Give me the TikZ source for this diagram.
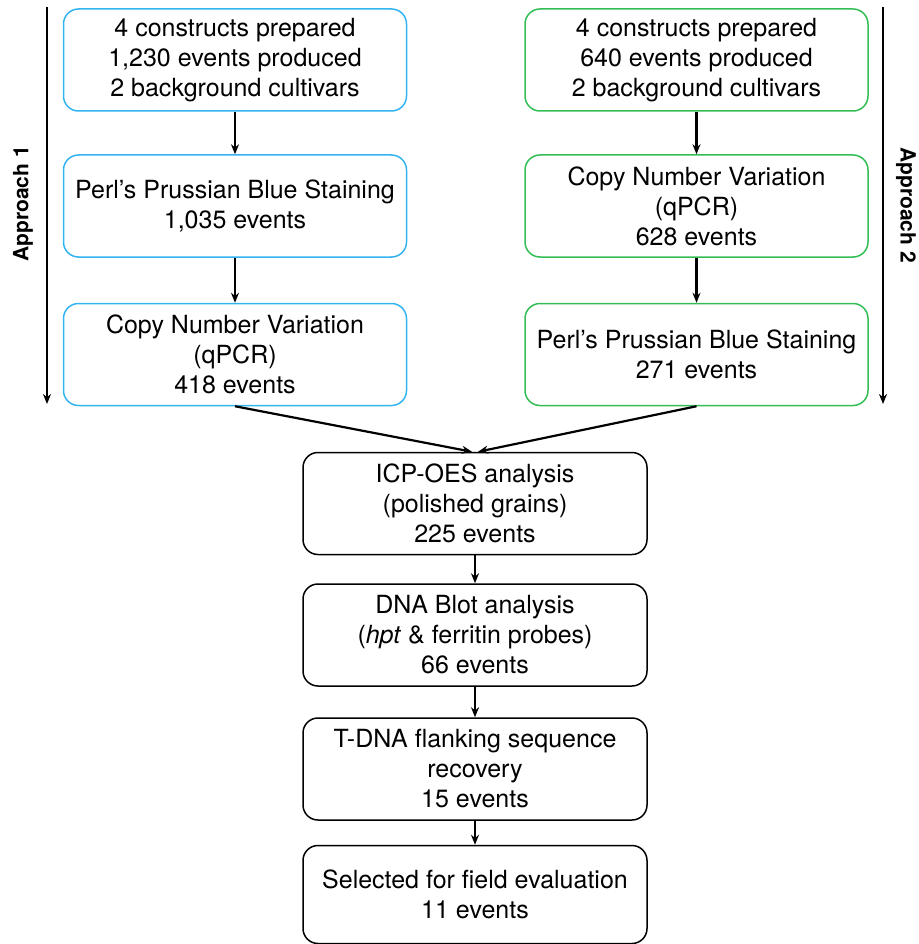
\documentclass[tikz,border=0pt]{standalone}
\usepackage{fontspec}
\setmainfont{TeX Gyre Heros}
\usetikzlibrary{arrows.meta}
\definecolor{boxblue}{RGB}{51,180,240}
\definecolor{boxgreen}{RGB}{50,190,85}
\begin{document}
\begin{tikzpicture}[x=1pt,y=-1pt,
  box/.style={draw, line width=1.5pt, rounded corners=15pt, minimum width=343pt, minimum height=102pt, align=center, inner sep=0pt, font=\fontsize{25}{30}\selectfont},
  bluebox/.style={box, draw=boxblue},
  greenbox/.style={box, draw=boxgreen},
  blackbox/.style={box, draw=black, minimum width=344pt},
  arr/.style={-{Stealth[length=10pt,width=8pt]}, line width=2.2pt},
  lab/.style={font=\fontsize{21}{24}\selectfont\bfseries}]
\useasboundingbox (0,0) rectangle (918,944);
% left column
\node[bluebox] (l1) at (235,60) {4 constructs prepared\\1,230 events produced\\2 background cultivars};
\node[bluebox] (l2) at (235,206) {Perl’s Prussian Blue Staining\\1,035 events};
\node[bluebox] (l3) at (235,354.5) {Copy Number Variation\\(qPCR)\\418 events};
% right column
\node[greenbox] (r1) at (696.5,60) {4 constructs prepared\\640 events produced\\2 background cultivars};
\node[greenbox] (r2) at (696.5,206) {Copy Number Variation\\(qPCR)\\628 events};
\node[greenbox] (r3) at (696.5,354.5) {Perl’s Prussian Blue Staining\\271 events};
% centre
\node[blackbox] (c1) at (475,503.5) {ICP-OES analysis\\(polished grains)\\225 events};
\node[blackbox] (c2) at (475,635) {DNA Blot analysis\\(\textit{hpt} \& ferritin probes)\\66 events};
\node[blackbox] (c3) at (475,769) {T-DNA flanking sequence\\recovery\\15 events};
\node[blackbox, minimum height=98pt] (c4) at (475,894.5) {Selected for field evaluation\\11 events};
% connectors
\draw[arr] (l1.south) -- (l2.north);
\draw[arr] (l2.south) -- (l3.north);
\draw[arr] (r1.south) -- (r2.north);
\draw[arr] (r2.south) -- (r3.north);
\coordinate (cl) at ([xshift=-3pt]c1.north);
\coordinate (cr) at ([xshift=3pt]c1.north);
\draw[arr] (l3.south) -- (cl);
\draw[arr] (r3.south) -- (cr);
\draw[arr] (c1.south) -- (c2.north);
\draw[arr] (c2.south) -- (c3.north);
\draw[arr] (c3.south) -- (c4.north);
% approach arrows
\coordinate (a1s) at (47,7);
\coordinate (a1e) at (47,404);
\coordinate (a2s) at (883,7);
\coordinate (a2e) at (883,404);
\draw[arr] (a1s) -- (a1e);
\draw[arr] (a2s) -- (a2e);
\node[lab, rotate=90] (ap1) at (23,204) {Approach 1};
\node[lab, rotate=-90] (ap2) at (906,205) {Approach 2};
\end{tikzpicture}
\end{document}
